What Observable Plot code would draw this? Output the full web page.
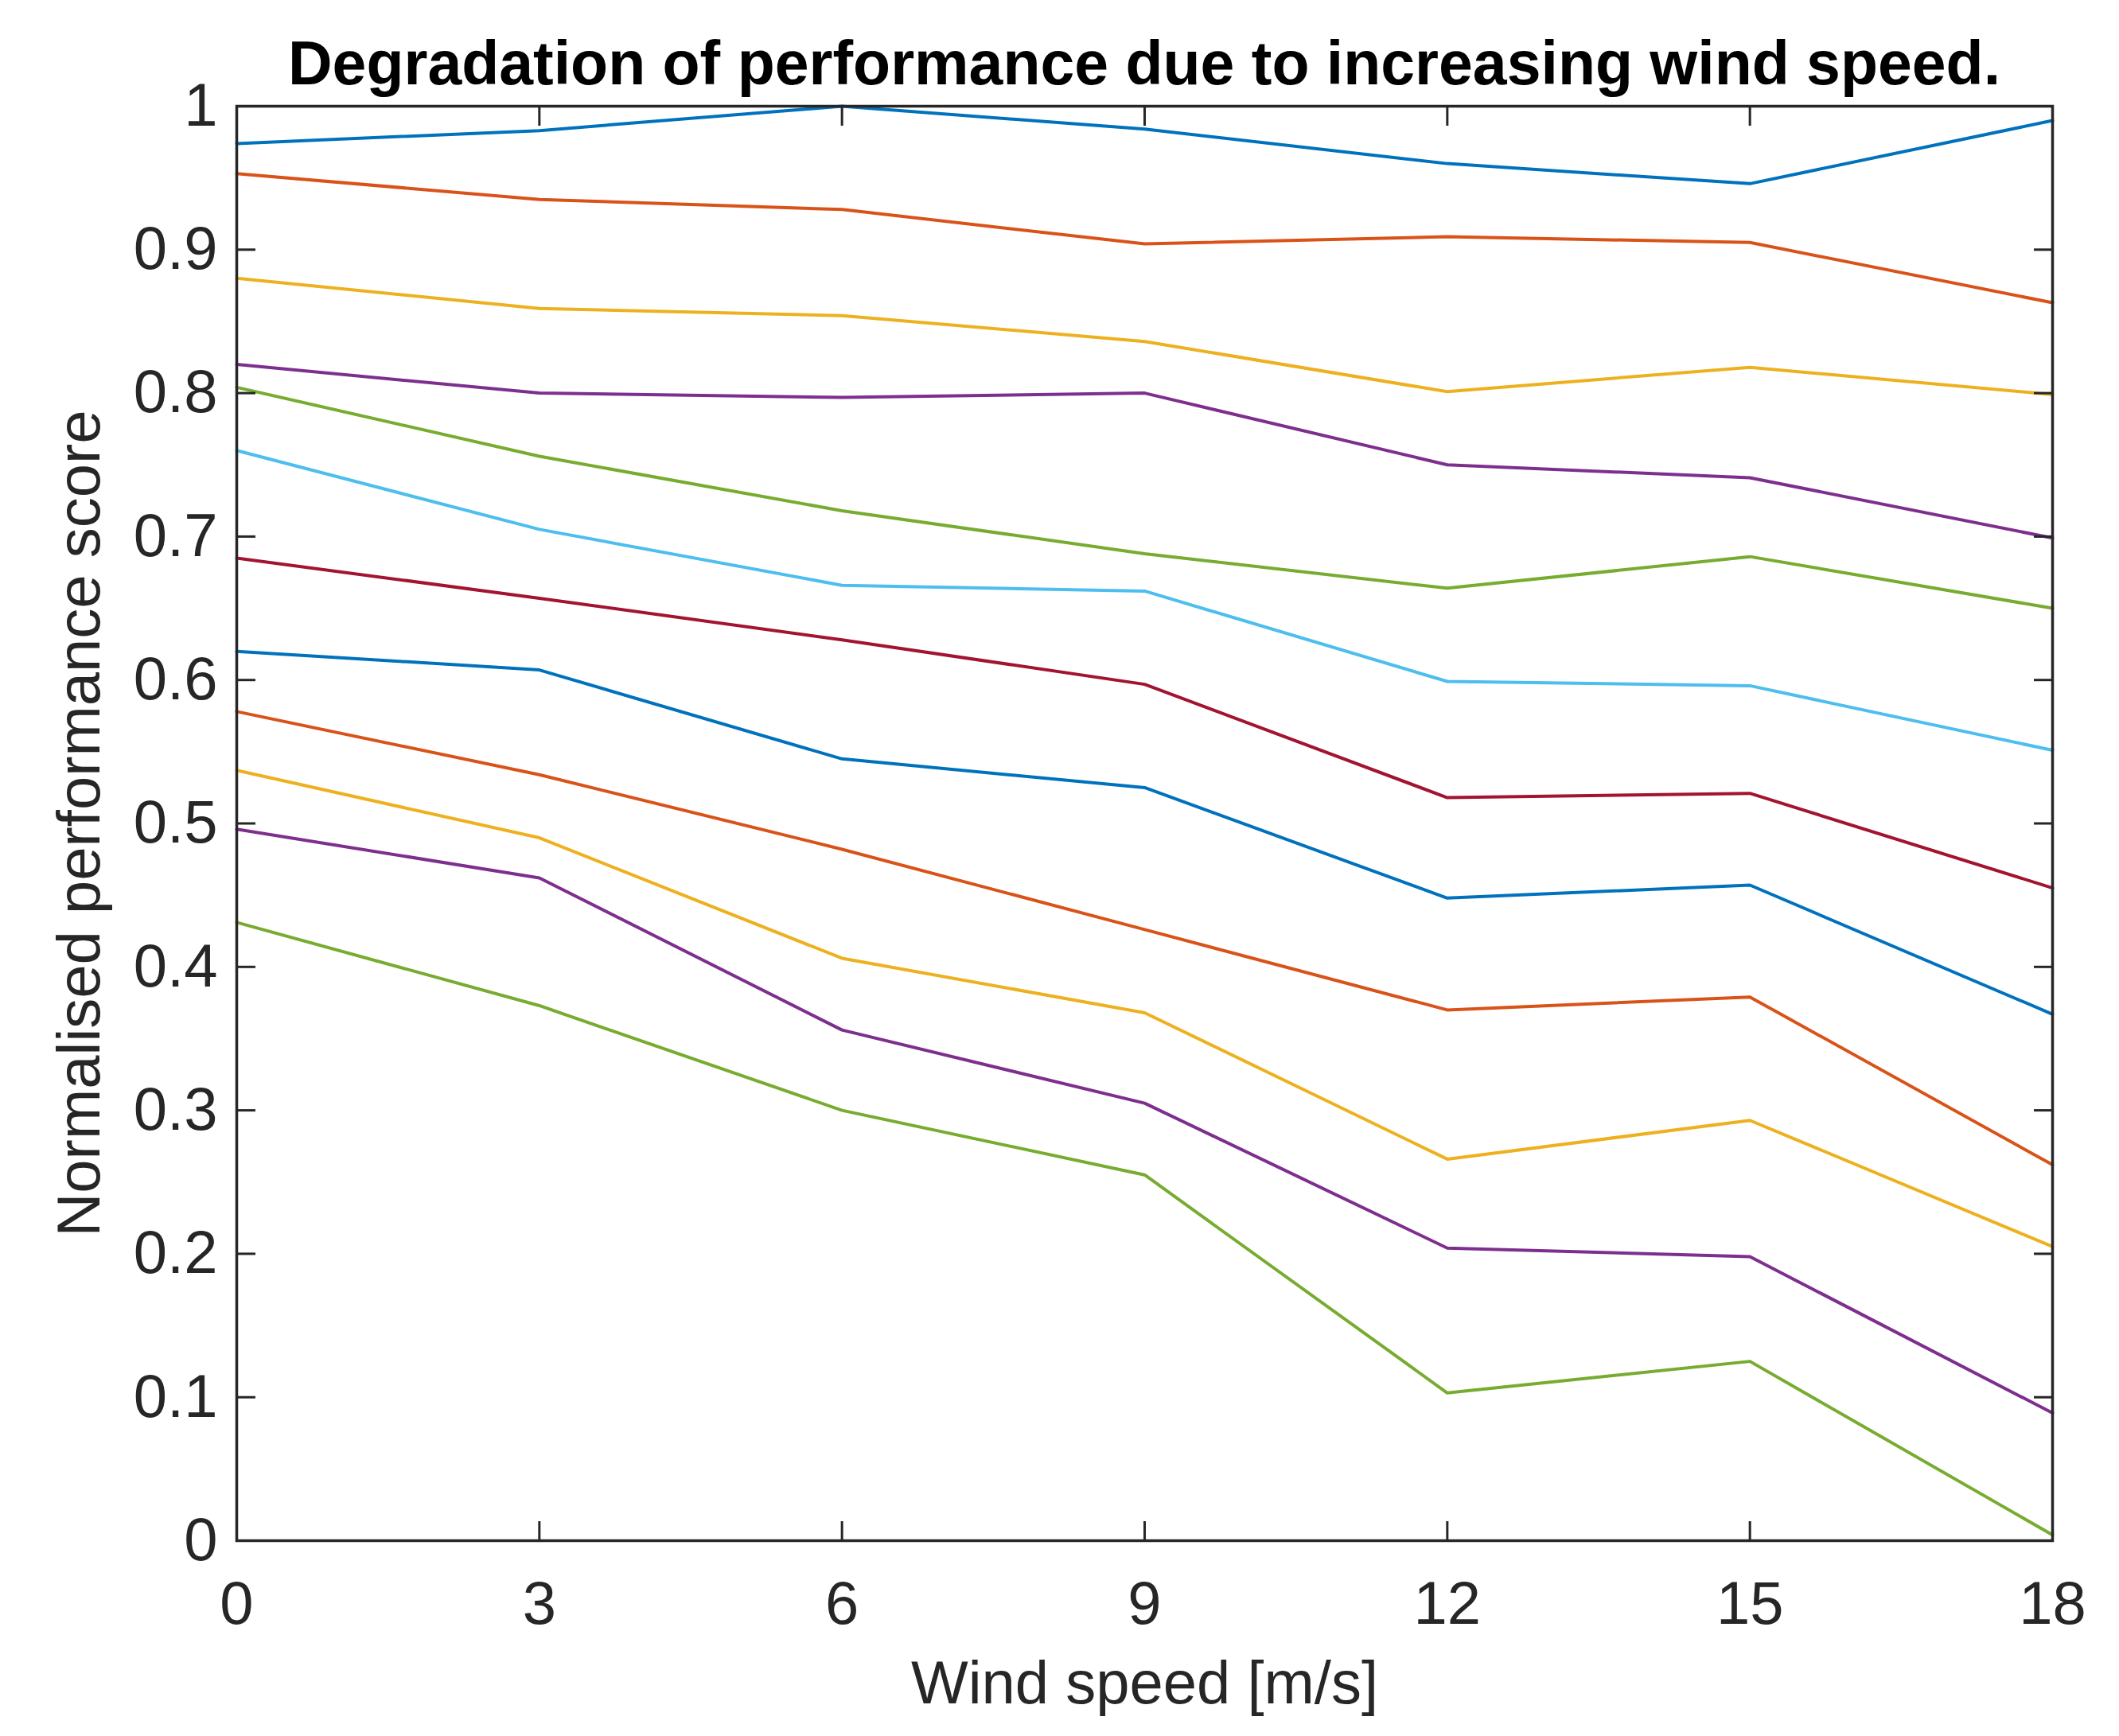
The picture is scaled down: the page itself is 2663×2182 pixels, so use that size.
<!DOCTYPE html>
<html>
<head>
<meta charset="utf-8">
<script src="https://cdn.jsdelivr.net/npm/d3@7"></script>
<script src="https://cdn.jsdelivr.net/npm/@observablehq/plot@0.6"></script>
<style>
  body { margin: 0; background: white; position: relative; }
  #title {
    position: absolute; top: 0; left: 0; z-index: 1;
    box-sizing: border-box;
    width: 2663px; height: 120px;
    padding: 41px 84px 0 297px;
    text-align: center;
    font-family: "Liberation Sans", Arial, sans-serif;
    font-weight: bold; font-size: 77px; line-height: 1;
    color: #000;
    white-space: nowrap;
  }
</style>
</head>
<body>
<div id="title">Degradation of performance due to increasing wind speed.</div>
<div id="chart"></div>
<script>
// wind speed steps
const windSpeed = [0, 3, 6, 9, 12, 15, 18];

// one array per curve, top to bottom
const s1  = [0.974, 0.983, 1.000, 0.984, 0.960, 0.946, 0.990];
const s2  = [0.953, 0.935, 0.928, 0.904, 0.909, 0.905, 0.863];
const s3  = [0.880, 0.859, 0.854, 0.836, 0.801, 0.818, 0.799];
const s4  = [0.820, 0.800, 0.797, 0.800, 0.750, 0.741, 0.699];
const s5  = [0.804, 0.756, 0.718, 0.688, 0.664, 0.686, 0.650];
const s6  = [0.760, 0.705, 0.666, 0.662, 0.599, 0.596, 0.551];
const s7  = [0.685, 0.657, 0.628, 0.597, 0.518, 0.521, 0.455];
const s8  = [0.620, 0.607, 0.545, 0.525, 0.448, 0.457, 0.367];
const s9  = [0.578, 0.534, 0.482, 0.426, 0.370, 0.379, 0.262];
const s10 = [0.537, 0.490, 0.406, 0.368, 0.266, 0.293, 0.205];
const s11 = [0.496, 0.462, 0.356, 0.305, 0.204, 0.198, 0.089];
const s12 = [0.431, 0.373, 0.300, 0.255, 0.103, 0.125, 0.004];
const series = [s1, s2, s3, s4, s5, s6, s7, s8, s9, s10, s11, s12];

// matlab default line order
const colors = ["#0072BD", "#D95319", "#EDB120", "#7E2F8E", "#77AC30", "#4DBEEE", "#A2142F"];

const xTicks = [0, 3, 6, 9, 12, 15, 18];
const yTicks = [0, 0.1, 0.2, 0.3, 0.4, 0.5, 0.6, 0.7, 0.8, 0.9, 1];

const rows = series.flatMap((s, i) =>
  s.map((v, j) => ({curve: i, wind: windSpeed[j], score: v}))
);

const ink = "#262626";

let chart = Plot.plot({
  width: 2663,
  height: 2182,
  marginTop: 133,
  marginBottom: 246,
  marginLeft: 297,
  marginRight: 84,
  x: {domain: [0, 18]},
  y: {domain: [0, 1]},
  style: {
    fontFamily: "Liberation Sans, Arial, sans-serif",
    fontSize: "76px",
    color: ink,
    background: "white"
  },
  marks: [
    ...series.map((s, i) =>
      Plot.line(rows.filter(d => d.curve === i), {
        x: "wind", y: "score",
        stroke: colors[i % colors.length],
        strokeWidth: 4
      })
    ),
    Plot.axisX({anchor: "bottom", ticks: xTicks, tickSize: -24, tickPadding: 75,
      strokeWidth: 3, tickFormat: d => String(d),
      label: "Wind speed [m/s]", labelAnchor: "center", labelOffset: 204, labelArrow: "none",
      fontSize: "76px"}),
    Plot.axisX({anchor: "top", ticks: xTicks, tickSize: -24, strokeWidth: 3,
      tickFormat: () => "", label: null}),
    Plot.axisY({anchor: "left", ticks: yTicks, tickSize: -24, tickPadding: 48,
      strokeWidth: 3, tickFormat: d => String(d),
      label: "Normalised performance score", labelAnchor: "center", labelOffset: 226, labelArrow: "none",
      fontSize: "76px"}),
    Plot.axisY({anchor: "right", ticks: yTicks, tickSize: -24, strokeWidth: 3,
      tickFormat: () => "", label: null}),
    Plot.frame({stroke: ink, strokeWidth: 3.5})
  ]
});

d3.select("#chart").append(() => chart);
</script>
</body>
</html>
